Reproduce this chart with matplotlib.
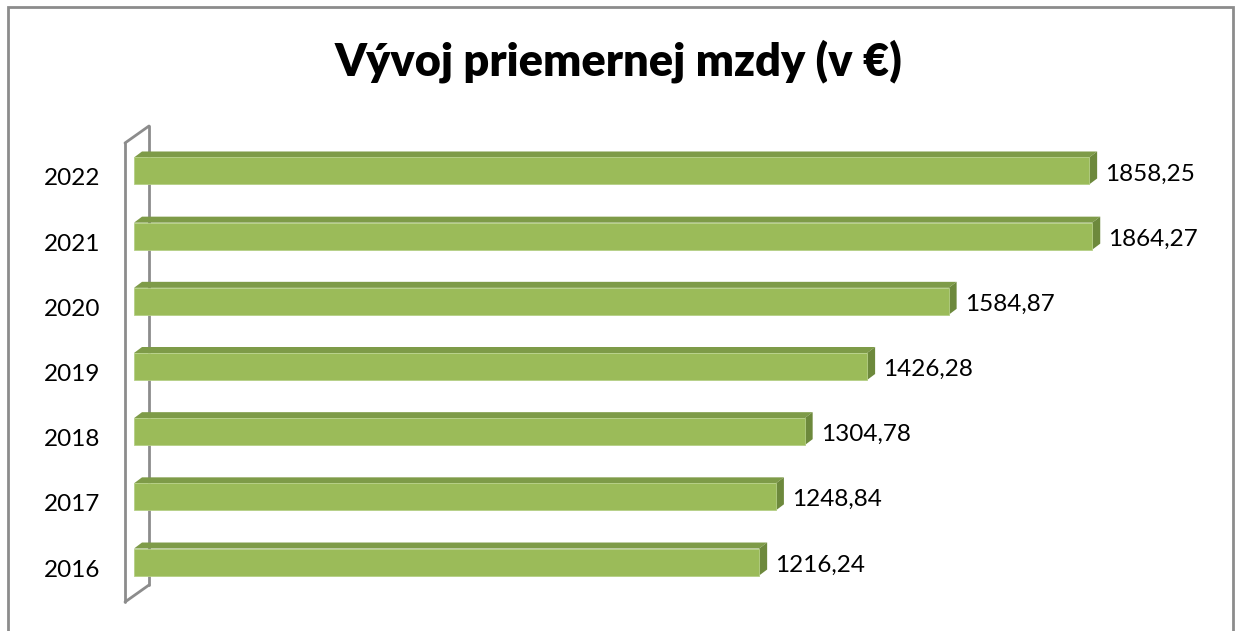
import numpy as np
import matplotlib
matplotlib.use('Agg')
import matplotlib.pyplot as plt
from matplotlib.patches import Polygon, Rectangle

plt.rcParams['font.family'] = ['Lato', 'DejaVu Sans']

# data
years = ['2016', '2017', '2018', '2019', '2020', '2021', '2022']
wages = [1216.24, 1248.84, 1304.78, 1426.28, 1584.87, 1864.27, 1858.25]
value_labels = ['1216,24', '1248,84', '1304,78', '1426,28', '1584,87', '1864,27', '1858,25']
title = 'Vývoj priemernej mzdy (v €)'

# colours
front_col = '#9bbb59'
top_col = '#7e9b48'
side_col = '#6d893c'
wall_col = '#8c8c8c'

W, H = 1236, 631
fig = plt.figure(figsize=(W / 100, H / 100), dpi=100)

# plot area in pixels: x=0 at px 134, 0.514 px per unit; bands from px 138 to 595
xmax = 2000
px_per_unit = 0.514
ax_left, ax_w = 134, xmax * px_per_unit
ax_top, ax_bot = 138.4, 594.6
ax = fig.add_axes([ax_left / W, 1 - ax_bot / H, ax_w / W, (ax_bot - ax_top) / H])
ax.set_xlim(0, xmax)
ax.set_ylim(-0.5, len(years) - 0.5)
ax.axis('off')

px_per_cat = (ax_bot - ax_top) / len(years)
def dx(px):
    return px / px_per_unit
def dy(px):
    return px / px_per_cat

# wall (left side, drawn behind bars)
n = len(years)
fx, bx = -dx(9), dx(15)
ft, fb = n - 0.5 - dy(4.6), -0.5 - dy(7.4)
bt, bb = n - 0.5 + dy(12.4), -0.5 + dy(9.6)
wall_kw = dict(color=wall_col, lw=2, clip_on=False, solid_capstyle='round')
ax.plot([fx, fx], [fb, ft], zorder=1, **wall_kw)
ax.plot([bx, bx], [bb, bt], zorder=1, **wall_kw)
ax.plot([fx, bx], [ft, bt], zorder=1, **wall_kw)
ax.plot([fx, bx], [fb, bb], zorder=1, **wall_kw)

# 3d bars
bar_h = dy(27)
ddx, ddy = dx(8), dy(6)
ypos = np.arange(n)
ax.barh(ypos, wages, height=bar_h, color=front_col, edgecolor='#b5cf85',
        linewidth=0.6, zorder=3)
for y, v in zip(ypos, wages):
    top = y + bar_h / 2
    bot = y - bar_h / 2
    ax.add_patch(Polygon([(0, top), (v, top), (v + ddx, top + ddy), (ddx, top + ddy)],
                         closed=True, facecolor=top_col, edgecolor='none', zorder=2))
    ax.add_patch(Polygon([(v, bot), (v, top), (v + ddx, top + ddy), (v + ddx, bot + ddy)],
                         closed=True, facecolor=side_col, edgecolor='none', zorder=2))

# category labels
for y, lab in zip(ypos, years):
    ax.annotate(lab, xy=(0, y), xytext=(-34, -8), textcoords='offset pixels',
                ha='right', va='center', fontsize=17.5, color='black', annotation_clip=False)

# value labels
for y, v, lab in zip(ypos, wages, value_labels):
    ax.annotate(lab, xy=(v, y), xytext=(16, -3), textcoords='offset pixels',
                ha='left', va='center', fontsize=17.5, color='black', annotation_clip=False)

fig.text(0.5, 1 - 61 / H, title, ha='center', va='center', fontsize=32.5,
         fontweight='heavy', color='black')

# chart border
fig.patches.append(Rectangle((8 / W, -0.05), (1233 - 8) / W, 1 - 7 / H + 0.05,
                             transform=fig.transFigure, fill=False,
                             edgecolor=wall_col, lw=2))

fig.savefig('out.png', dpi=100)
